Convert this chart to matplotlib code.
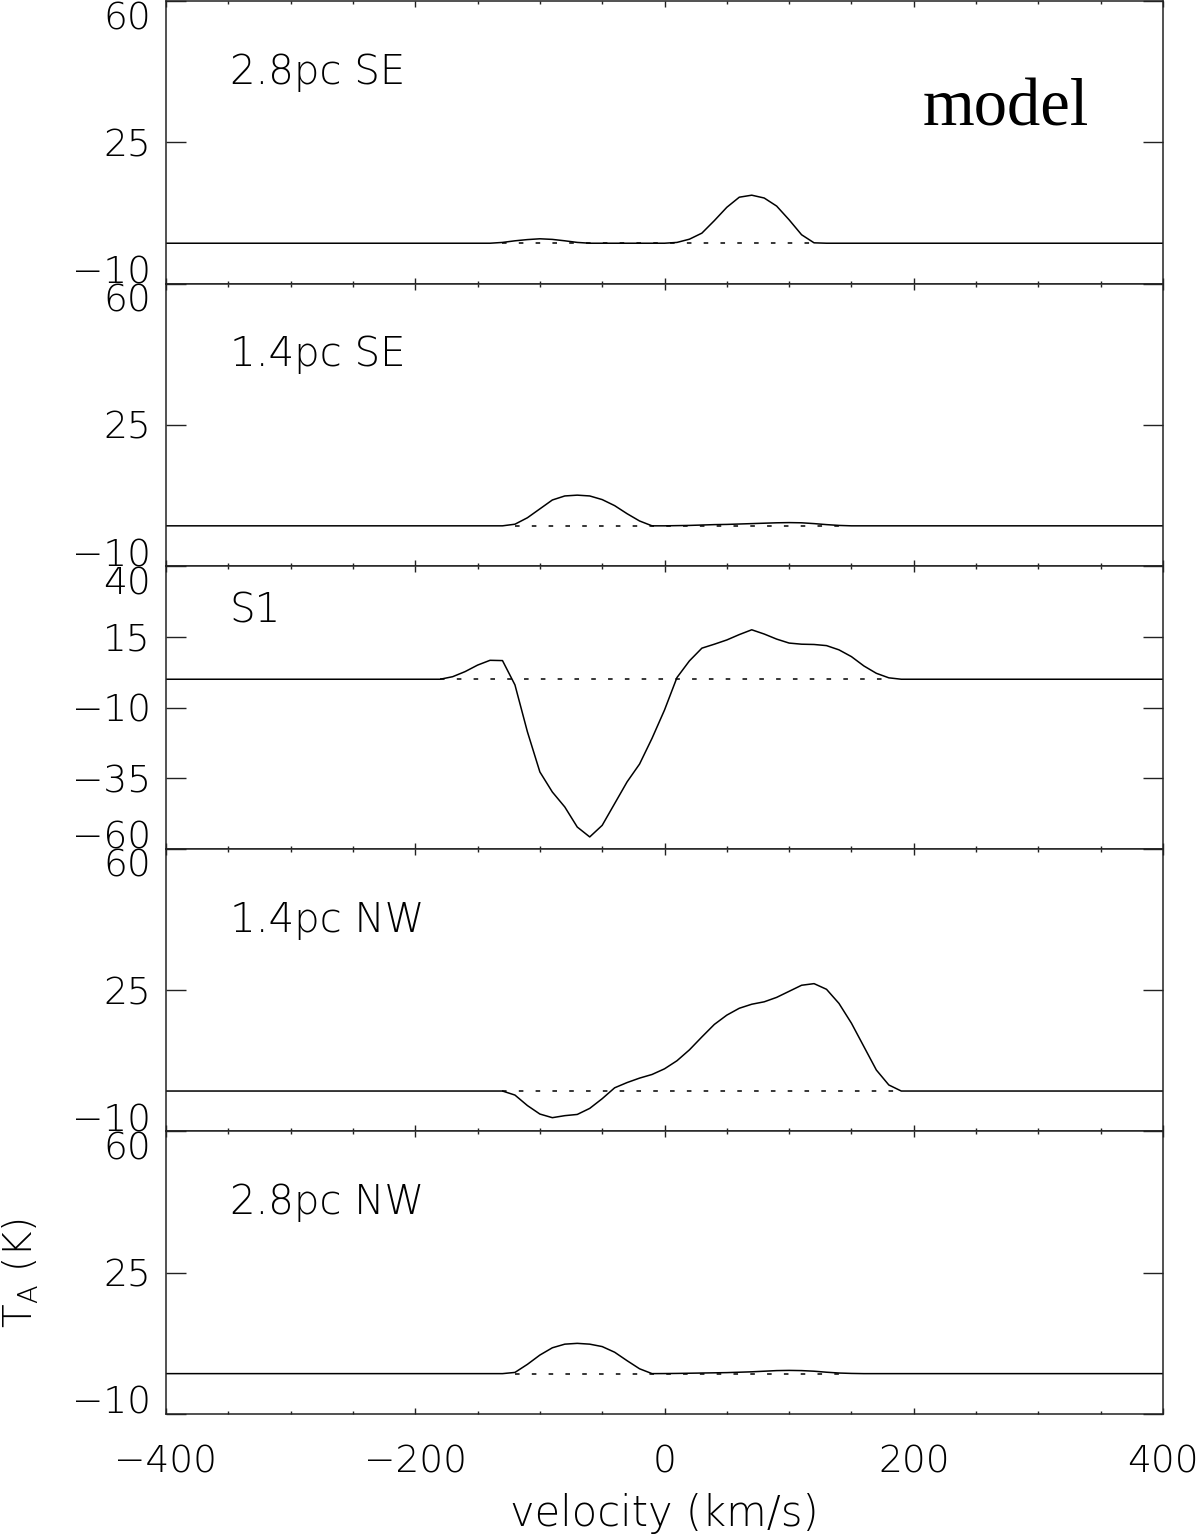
import numpy as np
import matplotlib
matplotlib.use('Agg')
import matplotlib.pyplot as plt

# model spectra, velocity in km/s, T_A in K
vel_se28 = [-400, -140, -130, -120, -110, -100, -90, -80, -70, -60,
            0, 10, 20, 30, 40, 50, 60, 70, 80, 90, 100, 110, 120, 130, 400]
ta_se28 = [0, 0, 0.2, 0.6, 0.9, 1.1, 0.95, 0.6, 0.2, 0,
           0, 0.2, 1.0, 2.5, 5.6, 8.9, 11.4, 11.9, 11.2, 9.2, 5.8, 2.1, 0.1, 0, 0]

vel_se14 = [-400, -130, -120, -110, -100, -90, -80, -70, -60, -50, -40, -30, -20, -10,
            0, 10, 20, 30, 40, 50, 60, 70, 80, 90, 100, 110, 120, 130, 140, 150, 400]
ta_se14 = [0, 0, 0.4, 2.0, 4.2, 6.4, 7.4, 7.6, 7.4, 6.5, 5.0, 3.0, 1.2, 0,
           0, 0.05, 0.1, 0.2, 0.3, 0.35, 0.45, 0.55, 0.65, 0.75, 0.8, 0.75, 0.55, 0.3, 0.1, 0, 0]

vel_s1 = [-400, -180, -170, -160, -150, -140, -130, -120, -110, -100, -90, -80, -70,
          -60, -50, -40, -30, -20, -10, 0, 10, 20, 30, 40, 50, 60, 70, 80, 90,
          100, 110, 120, 130, 140, 150, 160, 170, 180, 190, 400]
ta_s1 = [0, 0, 0.9, 2.7, 5.0, 6.7, 6.6, -2.0, -18.6, -32.8, -39.9, -45.2, -52.3,
         -55.8, -51.7, -44.0, -36.3, -30.0, -20.9, -10.9, 0.6, 6.5, 11.0, 12.4, 13.9, 15.8, 17.5, 16.0, 14.2,
         12.8, 12.4, 12.3, 11.9, 10.4, 8.0, 4.7, 2.1, 0.5, 0, 0]

vel_nw14 = [-400, -130, -120, -110, -100, -90, -80, -70, -60, -50, -40, -30, -20, -10,
            0, 10, 20, 30, 40, 50, 60, 70, 80, 90, 100, 110, 120, 130, 140, 150,
            160, 170, 180, 190, 400]
ta_nw14 = [0, 0, -1.0, -3.6, -5.7, -6.6, -6.1, -5.8, -4.3, -1.9, 0.8, 2.1, 3.2, 4.1,
           5.5, 7.5, 10.2, 13.4, 16.5, 18.8, 20.5, 21.5, 22.1, 23.2, 24.7, 26.2, 26.6, 25.2, 21.7, 16.8,
           11.0, 5.2, 1.5, 0, 0]

vel_nw28 = [-400, -130, -120, -110, -100, -90, -80, -70, -60, -50, -40, -30, -20, -10,
            0, 10, 20, 30, 40, 50, 60, 70, 80, 90, 100, 110, 120, 130, 140, 150, 160, 400]
ta_nw28 = [0, 0, 0.3, 2.3, 4.6, 6.4, 7.3, 7.5, 7.3, 6.7, 5.3, 3.2, 1.2, 0,
           0.02, 0.05, 0.1, 0.15, 0.2, 0.25, 0.35, 0.45, 0.6, 0.75, 0.8, 0.75, 0.6, 0.35, 0.15, 0.05, 0, 0]

# velocity range of the dotted zero line in each panel
zero_ranges = [[-130, 120], [-120, 150], [-180, 180], [-130, 190], [-120, 150]]

panel_names = ['2.8pc SE', '1.4pc SE', 'S1', '1.4pc NW', '2.8pc NW']
velocities = [vel_se28, vel_se14, vel_s1, vel_nw14, vel_nw28]
temps = [ta_se28, ta_se14, ta_s1, ta_nw14, ta_nw28]

yticks_normal = [-10, 25, 60]
yticks_s1 = [-60, -35, -10, 15, 40]
xticks = [-400, -200, 0, 200, 400]

plt.rcParams['font.family'] = ['DejaVu Sans']
plt.rcParams['font.weight'] = 200
plt.rcParams['axes.labelweight'] = 200
plt.rcParams['font.size'] = 27
plt.rcParams['mathtext.fontset'] = 'custom'
plt.rcParams['mathtext.rm'] = 'DejaVu Sans:weight=200'
plt.rcParams['mathtext.it'] = 'DejaVu Sans:weight=200'

EDGE = '#222222'


def fmt(v):
    return str(v).replace('-', '\u2212')


def draw_panel(fig, i, bottom, height):
    ax = fig.add_axes([166 / 1200, bottom, 997 / 1200, height])
    ax.plot(zero_ranges[i], [0, 0], color='black', lw=1.1, linestyle=(0, (3, 8)))
    ax.plot(velocities[i], temps[i], color='black', lw=1.1)
    ax.set_xlim(-400, 400)
    if i == 2:
        yt = yticks_s1
        label_y = 0.80
    else:
        yt = yticks_normal
        label_y = 0.707
    ax.set_ylim(yt[0], yt[-1])
    ax.set_yticks(yt, [fmt(t) for t in yt])
    ax.set_xticks(xticks, [fmt(t) for t in xticks])
    ax.set_xticks(np.arange(-350, 400, 50), minor=True)
    ax.tick_params(axis='y', which='major', direction='in', length=14.5, width=1.0,
                   left=True, right=True, pad=11, color=EDGE)
    ax.tick_params(axis='y', which='minor', left=False, right=False)
    ax.tick_params(axis='x', which='major', direction='in', length=4.2, width=1.0,
                   top=True, bottom=True, pad=22, color=EDGE)
    ax.tick_params(axis='x', which='minor', direction='in', length=2.3, width=1.0,
                   top=True, bottom=True, color=EDGE)
    for s in ax.spines.values():
        s.set_linewidth(1.1)
        s.set_color(EDGE)
    ticks = ax.yaxis.get_major_ticks()
    for k, t in enumerate(ticks):
        if k == 0:
            t.label1.set_verticalalignment('baseline')
        elif k == len(ticks) - 1:
            t.label1.set_verticalalignment('top')
        else:
            t.label1.set_verticalalignment('center_baseline')
    if i < 4:
        ax.tick_params(axis='x', labelbottom=False)
    ax.text(0.064, label_y, panel_names[i], transform=ax.transAxes,
            ha='left', va='baseline', fontsize=29)
    return ax


fig = plt.figure(figsize=(12, 15.34), dpi=100)
h = 282.6 / 1534
b0 = 120 / 1534
axes = []
for i in range(5):
    axes.append(draw_panel(fig, i, b0 + (4 - i) * h, h))

axes[0].text(0.759, 0.558, 'model', transform=axes[0].transAxes, ha='left',
             va='baseline', fontsize=48, family='Liberation Serif', fontweight='normal')
axes[4].set_xlabel('velocity (km/s)', labelpad=10, fontsize=30)
axes[4].set_ylabel('T$_{\\rm A}$ (K)', labelpad=22, fontsize=28)

fig.savefig('out.png', dpi=100)
